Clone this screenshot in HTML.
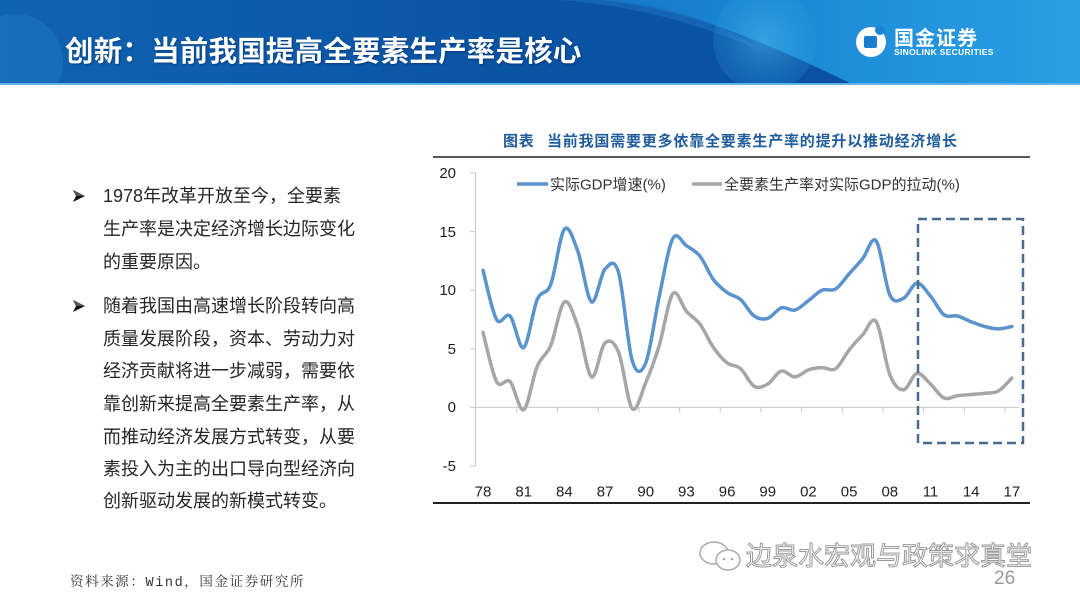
<!DOCTYPE html>
<html><head><meta charset="utf-8">
<style>
html,body{margin:0;padding:0;background:#fff;}
body{width:1080px;height:607px;position:relative;overflow:hidden;font-family:"Liberation Sans","Noto Sans CJK SC",sans-serif;}
.abs{position:absolute;white-space:nowrap;}
.ln{position:absolute;left:103px;font-size:18px;color:#262626;white-space:nowrap;line-height:20px;}
</style></head><body>
<svg class="abs" style="left:0;top:0" width="1080" height="86" viewBox="0 0 1080 86">
<defs>
<linearGradient id="hg" x1="0" y1="0" x2="1" y2="0">
<stop offset="0" stop-color="#1063b2"/><stop offset="0.5" stop-color="#0a53a3"/><stop offset="1" stop-color="#0b4f9f"/>
</linearGradient>
<linearGradient id="rg" x1="0" y1="0" x2="1" y2="0">
<stop offset="0" stop-color="#1479c8"/><stop offset="0.4" stop-color="#1b8ad6"/><stop offset="1" stop-color="#2a9fe3"/>
</linearGradient>
<radialGradient id="cg" cx="0.5" cy="0.5" r="0.5">
<stop offset="0" stop-color="#4cb6ee" stop-opacity="0.55"/><stop offset="1" stop-color="#2a9be0" stop-opacity="0.2"/>
</radialGradient>
<clipPath id="hc"><rect x="0" y="0" width="1080" height="83"/></clipPath>
</defs>
<g clip-path="url(#hc)">
<rect x="0" y="0" width="1080" height="83" fill="url(#hg)"/>
<circle cx="15" cy="62" r="48" fill="#2c80c8" opacity="0.35"/>
<path d="M600 0 C690 8 770 45 850 83 L1080 83 L1080 0 Z" fill="url(#rg)"/>
<path d="M560 0 C640 6 700 25 760 50 C720 20 660 5 620 0 Z" fill="#1a6fbf" opacity="0.6"/>
<circle cx="765" cy="40" r="52" fill="url(#cg)"/>
</g>
<rect x="0" y="83" width="1080" height="2" fill="#5fb3ea"/>
<circle cx="871" cy="42" r="15" fill="#fff"/>
<rect x="864" y="36" width="13" height="12" rx="2" fill="#1a7fcf"/>
<circle cx="880" cy="30" r="5" fill="#1a86d2"/>
</svg>
<div class="abs" style="left:65px;top:37px;font-size:28.5px;line-height:30px;font-weight:bold;color:#fff;letter-spacing:0.2px;text-shadow:1px 1px 2px rgba(0,30,80,0.5);font-family:'Liberation Sans','Noto Sans CJK SC',sans-serif;">创新：当前我国提高全要素生产率是核心</div>
<div class="abs" style="left:894px;top:29px;font-size:20px;font-weight:bold;color:#fff;letter-spacing:1px;line-height:20px;">国金证券</div>
<div class="abs" style="left:894px;top:47px;font-size:8.5px;font-weight:bold;color:#fff;letter-spacing:0.3px;line-height:10px;">SINOLINK SECURITIES</div>

<svg class="abs" style="left:72px;top:189px" width="14" height="14" viewBox="0 0 14 14"><polygon points="1,1 13,7 1,13 4,7" fill="#111"/><polygon points="1,1 13,7 4,7" fill="#555"/></svg>
<svg class="abs" style="left:72px;top:299px" width="14" height="14" viewBox="0 0 14 14"><polygon points="1,1 13,7 1,13 4,7" fill="#111"/><polygon points="1,1 13,7 4,7" fill="#555"/></svg>
<div class="ln" style="top:186px">1978年改革开放至今，全要素</div>
<div class="ln" style="top:219px">生产率是决定经济增长边际变化</div>
<div class="ln" style="top:252px">的重要原因。</div>
<div class="ln" style="top:296px">随着我国由高速增长阶段转向高</div>
<div class="ln" style="top:329px">质量发展阶段，资本、劳动力对</div>
<div class="ln" style="top:361px">经济贡献将进一步减弱，需要依</div>
<div class="ln" style="top:394px">靠创新来提高全要素生产率，从</div>
<div class="ln" style="top:427px">而推动经济发展方式转变，从要</div>
<div class="ln" style="top:459px">素投入为主的出口导向型经济向</div>
<div class="ln" style="top:491px">创新驱动发展的新模式转变。</div>

<div class="abs" style="left:70px;top:575px;font-size:13.5px;color:#333;letter-spacing:1.6px;line-height:18px;font-family:'Liberation Mono','Noto Serif CJK SC',monospace;">资料来源：Wind，国金证券研究所</div>

<svg class="abs" style="left:0;top:0" width="1080" height="607" viewBox="0 0 1080 607">
<text x="503" y="146" font-size="15" font-weight="bold" fill="#215d9c" font-family="Liberation Sans, Noto Sans CJK SC, sans-serif" letter-spacing="0.8">图表</text>
<text x="547" y="146" font-size="15" font-weight="bold" fill="#215d9c" font-family="Liberation Sans, Noto Sans CJK SC, sans-serif" letter-spacing="0.8">当前我国需要更多依靠全要素生产率的提升以推动经济增长</text>
<line x1="433" y1="157" x2="1030" y2="157" stroke="#222" stroke-width="1.5"/>
<line x1="433" y1="503" x2="1030" y2="503" stroke="#222" stroke-width="2"/>
<g stroke="#c8c8c8" stroke-width="1">
<line x1="475.5" y1="173" x2="475.5" y2="466"/>
<line x1="470" y1="173" x2="475.5" y2="173"/>
<line x1="470" y1="231.6" x2="475.5" y2="231.6"/>
<line x1="470" y1="290.2" x2="475.5" y2="290.2"/>
<line x1="470" y1="348.8" x2="475.5" y2="348.8"/>
<line x1="470" y1="407.4" x2="475.5" y2="407.4"/>
<line x1="470" y1="466" x2="475.5" y2="466"/>
<line x1="475.5" y1="407.4" x2="1019" y2="407.4"/>
<g id="xt"></g>
</g>
<g font-size="15" fill="#222" font-family="Liberation Sans, sans-serif" text-anchor="end">
<text x="456" y="178">20</text>
<text x="456" y="237">15</text>
<text x="456" y="295">10</text>
<text x="456" y="354">5</text>
<text x="456" y="412">0</text>
<text x="456" y="471">-5</text>
</g>
<g id="xl" font-size="15" fill="#222" font-family="Liberation Sans, sans-serif" text-anchor="middle"></g>
<line x1="517" y1="184" x2="548" y2="184" stroke="#5b93cc" stroke-width="3.5"/>
<text x="550" y="189.5" font-size="15" fill="#333" font-family="Liberation Sans, Noto Sans CJK SC, sans-serif">实际GDP增速(%)</text>
<line x1="692" y1="184" x2="722" y2="184" stroke="#a6a6a6" stroke-width="3.5"/>
<text x="724" y="189.5" font-size="15" fill="#333" font-family="Liberation Sans, Noto Sans CJK SC, sans-serif">全要素生产率对实际GDP的拉动(%)</text>
<path id="gray" fill="none" stroke="#a6a6a6" stroke-width="3.5" stroke-linejoin="round" stroke-linecap="round"/>
<path id="blue" fill="none" stroke="#5b93cc" stroke-width="3.5" stroke-linejoin="round" stroke-linecap="round"/>
<rect x="918" y="219" width="105" height="224" fill="none" stroke="#4a6b8f" stroke-width="2.5" stroke-dasharray="9,5"/>
</svg>

<svg class="abs" style="left:696px;top:536px" width="50" height="42" viewBox="0 0 50 42">
<ellipse cx="18" cy="17" rx="14" ry="11" fill="#fff" stroke="#aaa" stroke-width="1.5"/>
<ellipse cx="32" cy="24" rx="12" ry="10" fill="#fff" stroke="#aaa" stroke-width="1.5"/>
<circle cx="28" cy="23" r="1.3" fill="#aaa"/><circle cx="36" cy="23" r="1.3" fill="#aaa"/>
</svg>
<div class="abs" style="left:746px;top:540px;font-size:26px;color:#fff;-webkit-text-stroke:1px #9a9a9a;line-height:32px;font-family:'Liberation Sans','Noto Sans CJK SC',sans-serif;">边泉水宏观与政策求真堂</div>
<div class="abs" style="left:994px;top:568px;font-size:19px;color:#9a9a9a;line-height:22px;">26</div>

<script>
(function(){
var blue=[11.7,7.5,7.8,5.1,9.2,10.5,15.2,13.3,9.0,11.8,11.5,4.0,3.8,9.5,14.4,13.8,12.9,10.9,9.8,9.2,7.8,7.6,8.5,8.3,9.1,10.0,10.1,11.4,12.7,14.2,9.6,9.3,10.6,9.5,7.9,7.8,7.3,6.9,6.7,6.9];
var gray=[6.4,2.2,2.2,-0.2,3.5,5.3,9.0,6.9,2.6,5.5,4.7,-0.1,2.1,5.3,9.7,8.2,7.1,5.1,3.8,3.3,1.8,2.0,3.1,2.6,3.2,3.4,3.3,4.9,6.2,7.3,2.8,1.5,2.9,2.0,0.8,1.0,1.1,1.2,1.4,2.5];
function X(i){return 483+i*13.56;}
function Y(v){return 407.4-v*11.72;}
function path(vals){
 var p=vals.map(function(v,i){return [X(i),Y(v)];});
 var d='M'+p[0][0].toFixed(1)+' '+p[0][1].toFixed(1);
 for(var i=0;i<p.length-1;i++){
  var p0=p[i-1]||p[i],p1=p[i],p2=p[i+1],p3=p[i+2]||p[i+1];
  var c1=[p1[0]+(p2[0]-p0[0])/6,p1[1]+(p2[1]-p0[1])/6];
  var c2=[p2[0]-(p3[0]-p1[0])/6,p2[1]-(p3[1]-p1[1])/6];
  d+=' C'+c1[0].toFixed(1)+' '+c1[1].toFixed(1)+' '+c2[0].toFixed(1)+' '+c2[1].toFixed(1)+' '+p2[0].toFixed(1)+' '+p2[1].toFixed(1);
 }
 return d;
}
document.getElementById('blue').setAttribute('d',path(blue));
document.getElementById('gray').setAttribute('d',path(gray));
var ns='http://www.w3.org/2000/svg';
var xt=document.getElementById('xt');
for(var k=1;k<=13;k++){
 var x=476.2+k*3*13.56;
 var l=document.createElementNS(ns,'line');
 l.setAttribute('x1',x);l.setAttribute('x2',x);l.setAttribute('y1',407.4);l.setAttribute('y2',412.5);
 xt.appendChild(l);
}
var labs=['78','81','84','87','90','93','96','99','02','05','08','11','14','17'];
var xl=document.getElementById('xl');
for(var j=0;j<labs.length;j++){
 var t=document.createElementNS(ns,'text');
 t.setAttribute('x',X(j*3));t.setAttribute('y',496.5);
 t.textContent=labs[j];xl.appendChild(t);
}
})();
</script>
</body></html>
